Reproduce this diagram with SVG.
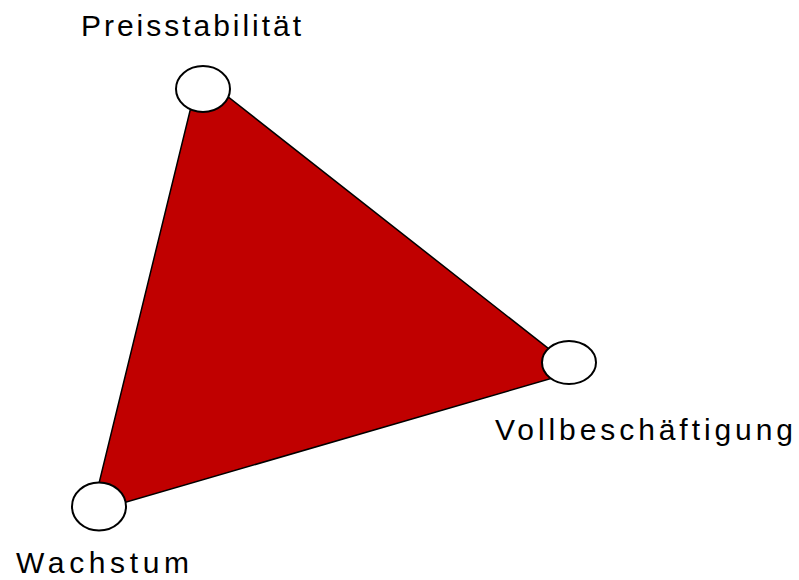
<svg xmlns="http://www.w3.org/2000/svg" width="799" height="580" viewBox="0 0 799 580">
<style>
.node ellipse{fill:#ffffff;stroke:#000000;stroke-width:2}
.lbl{font-family:"Liberation Sans",Arial,sans-serif;font-size:30px;fill:#000000}
</style>
<rect width="799" height="580" fill="#ffffff"/>
<g id="connectors">
<polygon points="199,74 577,371 92,512" fill="#c00000" stroke="#000000" stroke-width="1.5" stroke-linejoin="miter"/>
</g>
<g id="preisstabilitaet" class="node">
<ellipse cx="203" cy="89" rx="27" ry="23"/>
<text class="lbl" x="81" y="36" textLength="220" lengthAdjust="spacing">Preisstabilität</text>
</g>
<g id="vollbeschaeftigung" class="node">
<ellipse cx="569" cy="362.5" rx="27" ry="21.5"/>
<text class="lbl" x="495" y="440" textLength="298" lengthAdjust="spacing">Vollbeschäftigung</text>
</g>
<g id="wachstum" class="node">
<ellipse cx="99" cy="506.5" rx="27" ry="24"/>
<text class="lbl" x="16" y="573" textLength="173" lengthAdjust="spacing">Wachstum</text>
</g>
</svg>
